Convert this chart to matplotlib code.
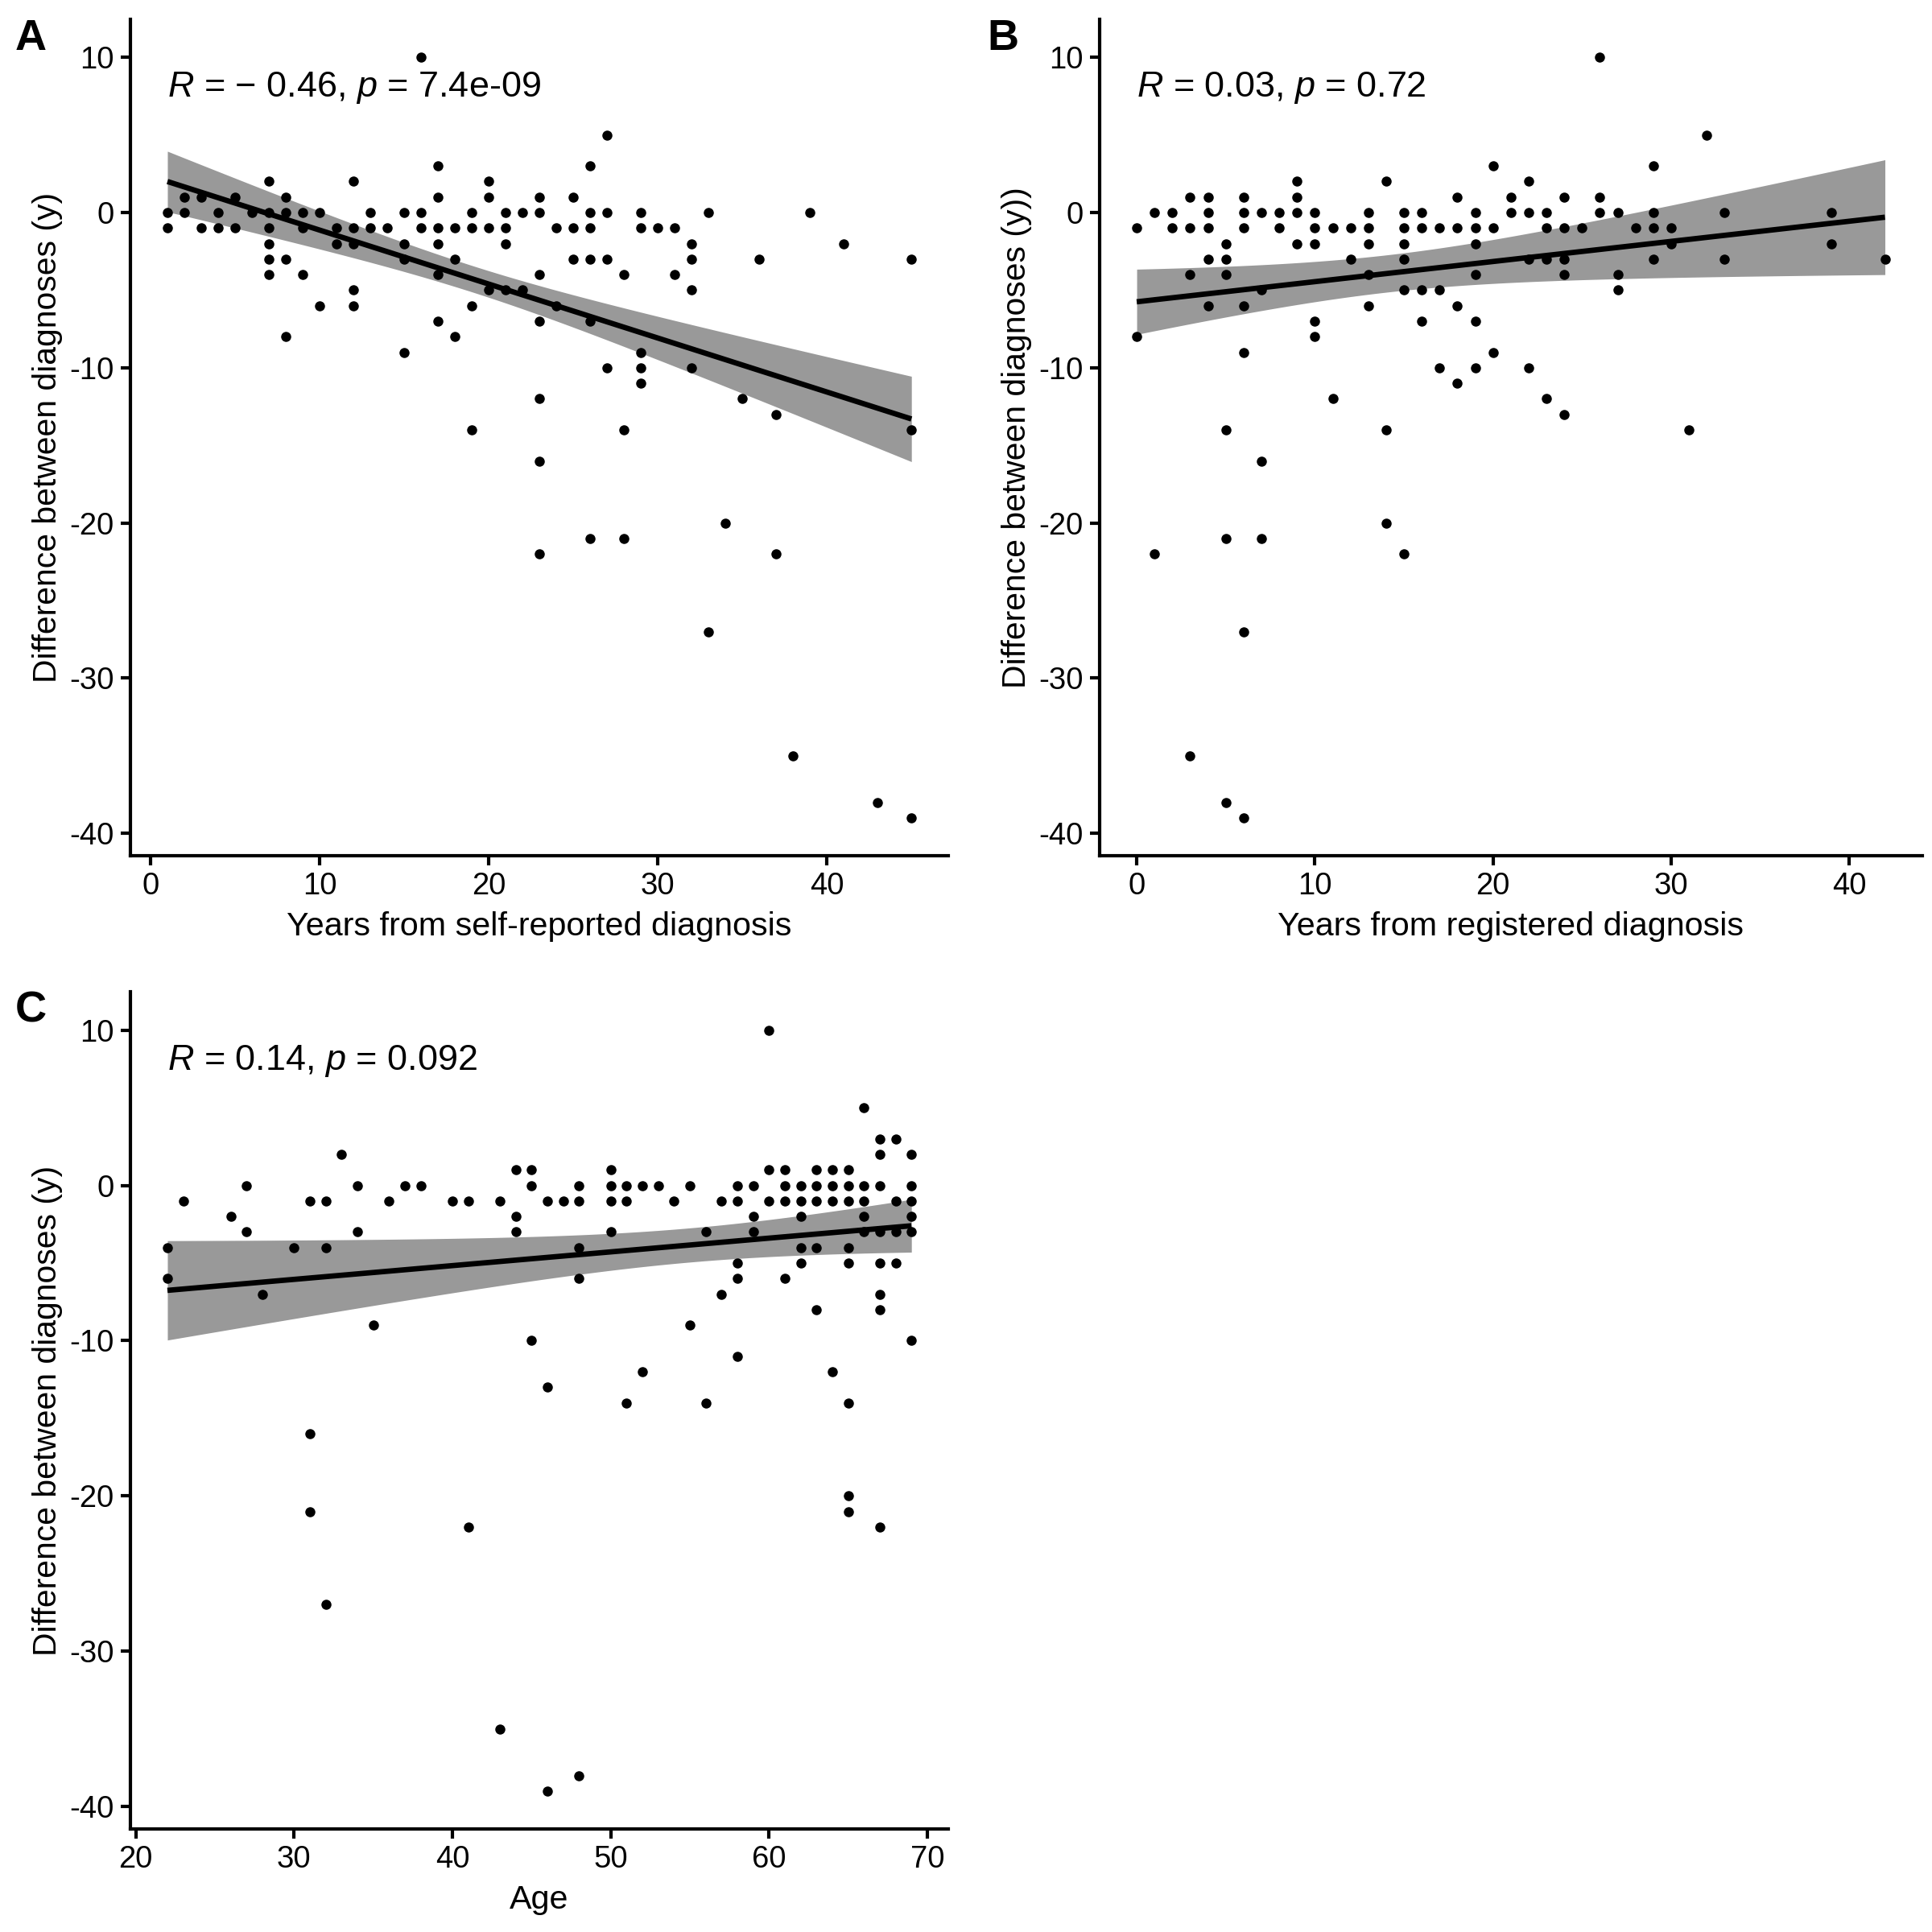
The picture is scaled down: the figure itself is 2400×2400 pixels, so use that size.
import numpy as np
import matplotlib
matplotlib.use("Agg")
import matplotlib.pyplot as plt

plt.rcParams['font.family'] = ['Liberation Sans', 'DejaVu Sans']
plt.rcParams['mathtext.fontset'] = 'custom'
plt.rcParams['mathtext.it'] = 'Liberation Sans:italic'
plt.rcParams['mathtext.rm'] = 'Liberation Sans'
plt.rcParams['axes.unicode_minus'] = False

# Panel A: years from self-reported diagnosis vs difference
a_x = [1, 1, 2, 2, 3, 3, 4, 4, 5, 5, 6,
       7, 7, 7, 7, 7, 7, 8, 8, 8, 8, 9, 9, 9, 10, 10, 11, 11,
       12, 12, 12, 12, 12, 13, 13, 14, 15, 15, 15, 15, 16, 16, 16,
       17, 17, 17, 17, 17, 17, 18, 18, 18, 19, 19, 19, 19,
       20, 20, 20, 20, 21, 21, 21, 21, 22, 22,
       23, 23, 23, 23, 23, 23, 23, 24, 24, 25, 25, 25,
       26, 26, 26, 26, 26, 26, 27, 27, 27, 27, 28, 28, 28,
       29, 29, 29, 29, 29, 30, 31, 31, 32, 32, 32, 32, 33, 33,
       34, 35, 36, 37, 37, 38, 39, 41, 43, 45, 45, 45]
a_y = [0, -1, 1, 0, 1, -1, 0, -1, 1, -1, 0,
       2, 0, -1, -2, -3, -4, 1, 0, -3, -8, 0, -1, -4, 0, -6, -1, -2,
       2, -1, -2, -5, -6, 0, -1, -1, 0, -2, -3, -9, 10, 0, -1,
       3, 1, -1, -2, -4, -7, -1, -3, -8, 0, -1, -6, -14,
       2, 1, -1, -5, 0, -1, -2, -5, 0, -5,
       1, 0, -4, -7, -12, -16, -22, -1, -6, 1, -1, -3,
       3, 0, -1, -3, -7, -21, 5, 0, -3, -10, -4, -14, -21,
       0, -1, -9, -10, -11, -1, -1, -4, -2, -3, -5, -10, 0, -27,
       -20, -12, -3, -13, -22, -35, 0, -2, -38, -3, -14, -39]

# Panel B: years from registered diagnosis vs difference
b_x = [0, 0, 1, 1, 2, 2, 3, 3, 3, 3, 4, 4, 4, 4, 4,
       5, 5, 5, 5, 5, 5, 6, 6, 6, 6, 6, 6, 6, 7, 7, 7, 7, 8, 8,
       9, 9, 9, 9, 10, 10, 10, 10, 10, 11, 11, 12, 12,
       13, 13, 13, 13, 13, 14, 14, 14, 15, 15, 15, 15, 15, 15,
       16, 16, 16, 16, 17, 17, 17, 18, 18, 18, 18,
       19, 19, 19, 19, 19, 19, 20, 20, 20, 21, 21, 22, 22, 22, 22,
       23, 23, 23, 23, 24, 24, 24, 24, 24, 25, 26, 26, 26,
       27, 27, 27, 28, 29, 29, 29, 29, 30, 30, 31, 32, 33, 33,
       39, 39, 42]
b_y = [-1, -8, 0, -22, 0, -1, 1, -1, -4, -35, 1, 0, -1, -3, -6,
       -2, -3, -4, -14, -21, -38, 1, 0, -1, -6, -9, -27, -39, 0, -5, -16, -21, 0, -1,
       2, 1, 0, -2, 0, -1, -2, -7, -8, -1, -12, -1, -3,
       0, -1, -2, -4, -6, 2, -14, -20, 0, -1, -2, -3, -5, -22,
       0, -1, -5, -7, -1, -5, -10, 1, -1, -6, -11,
       0, -1, -2, -4, -7, -10, 3, -1, -9, 1, 0, 2, 0, -3, -10,
       0, -1, -3, -12, 1, -1, -3, -4, -13, -1, 10, 1, 0,
       0, -4, -5, -1, 3, 0, -1, -3, -1, -2, -14, 5, 0, -3,
       0, -2, -3]

# Panel C: age vs difference
c_x = [22, 22, 23, 26, 27, 27, 28, 30, 31, 31, 31, 32, 32, 32, 33, 34, 34,
       35, 36, 37, 38, 40, 41, 41, 43, 43, 44, 44, 44, 45, 45, 45,
       46, 46, 46, 47, 48, 48, 48, 48, 48, 50, 50, 50, 50, 51, 51, 51,
       52, 52, 53, 54, 55, 55, 56, 56, 57, 57, 58, 58, 58, 58, 58,
       59, 59, 59, 60, 60, 60, 61, 61, 61, 61, 62, 62, 62, 62, 62,
       63, 63, 63, 63, 63, 64, 64, 64, 64,
       65, 65, 65, 65, 65, 65, 65, 65, 66, 66, 66, 66, 66,
       67, 67, 67, 67, 67, 67, 67, 67, 68, 68, 68, 68,
       69, 69, 69, 69, 69, 69]
c_y = [-4, -6, -1, -2, 0, -3, -7, -4, -1, -16, -21, -1, -4, -27, 2, 0, -3,
       -9, -1, 0, 0, -1, -1, -22, -1, -35, 1, -2, -3, 1, 0, -10,
       -1, -13, -39, -1, 0, -1, -4, -6, -38, 1, 0, -1, -3, 0, -1, -14,
       0, -12, 0, -1, 0, -9, -3, -14, -1, -7, 0, -1, -5, -6, -11,
       0, -2, -3, 10, 1, -1, 1, 0, -1, -6, 0, -1, -2, -4, -5,
       1, 0, -1, -4, -8, 1, 0, -1, -12,
       1, 0, -1, -4, -5, -14, -20, -21, 5, 0, -1, -2, -3,
       3, 2, 0, -3, -5, -7, -8, -22, 3, -1, -3, -5,
       2, 0, -1, -2, -3, -10]

# fitted line: value at first and last x
a_fit = [2.0, -13.3]
b_fit = [-5.75, -0.3]
c_fit = [-6.76, -2.6]
# confidence band: narrowest point (x, half-width) and half-width at both ends
a_band = [19, 0.85, 1.95, 2.75]
b_band = [14, 1.2, 2.1, 3.7]
c_band = [55, 1.1, 3.2, 1.7]

labels = ["A", "B", "C"]
xlabels = ["Years from self-reported diagnosis", "Years from registered diagnosis", "Age"]
ylabels = ["Difference between diagnoses (y)", "Difference between diagnoses (y))",
           "Difference between diagnoses (y)"]
cor_texts = ["$R$ = \u2212 0.46, $p$ = 7.4e-09", "$R$ = 0.03, $p$ = 0.72", "$R$ = 0.14, $p$ = 0.092"]
xticks = [[0, 10, 20, 30, 40], [0, 10, 20, 30, 40], [20, 30, 40, 50, 60, 70]]
yticks = [10, 0, -10, -20, -30, -40]


def draw_panel(ax, x, y, fit_ends, band, xlab, ylab, txt, xt):
    x = np.array(x, dtype=float)
    y = np.array(y, dtype=float)
    x0, h0, h_left, h_right = band
    xs = np.linspace(x.min(), x.max(), 80)
    fit = np.interp(xs, [x.min(), x.max()], fit_ends)
    k_left = (h_left ** 2 - h0 ** 2) / (x0 - x.min()) ** 2
    k_right = (h_right ** 2 - h0 ** 2) / (x.max() - x0) ** 2
    k = np.where(xs < x0, k_left, k_right)
    half = np.sqrt(h0 ** 2 + k * (xs - x0) ** 2)
    ax.fill_between(xs, fit - half, fit + half, color="#999999", lw=0, zorder=1)
    ax.scatter(x, y, s=9, color="black", lw=0, zorder=2)
    ax.plot(xs, fit, color="black", lw=1.6, zorder=3, solid_capstyle="butt")

    pad_x = (x.max() - x.min()) * 0.05
    pad_y = (y.max() - y.min()) * 0.05
    ax.set_xlim(x.min() - pad_x, x.max() + pad_x)
    ax.set_ylim(y.min() - pad_y, y.max() + pad_y)
    ax.set_xticks(xt)
    ax.set_yticks(yticks)
    ax.set_xlabel(xlab, fontsize=9.9, labelpad=3)
    ax.set_ylabel(ylab, fontsize=9.8, labelpad=2)
    ax.text(0.045, 0.918, txt, transform=ax.transAxes, fontsize=10.8, va="center", ha="left")
    for side in ["top", "right"]:
        ax.spines[side].set_visible(False)
    for side in ["left", "bottom"]:
        ax.spines[side].set_linewidth(1.0)
    ax.tick_params(length=2.8, width=1.0, labelsize=9.2, colors="black", pad=2)


fig = plt.figure(figsize=(8, 8), dpi=300)
axA = fig.add_axes([0.0674, 0.557, 0.4236, 0.433])
axB = fig.add_axes([0.569, 0.557, 0.426, 0.433])
axC = fig.add_axes([0.0674, 0.0533, 0.4236, 0.4332])

data = [(a_x, a_y, a_fit, a_band), (b_x, b_y, b_fit, b_band), (c_x, c_y, c_fit, c_band)]
axes = [axA, axB, axC]
for i, ax in enumerate(axes):
    px, py, pfit, pband = data[i]
    draw_panel(ax, px, py, pfit, pband, xlabels[i], ylabels[i], cor_texts[i], xticks[i])

fig.text(0.016, 0.980, labels[0], fontsize=13, fontweight="bold", va="center", ha="center")
fig.text(0.519, 0.980, labels[1], fontsize=13, fontweight="bold", va="center", ha="center")
fig.text(0.016, 0.477, labels[2], fontsize=13, fontweight="bold", va="center", ha="center")

fig.savefig("out.png", dpi=300)
